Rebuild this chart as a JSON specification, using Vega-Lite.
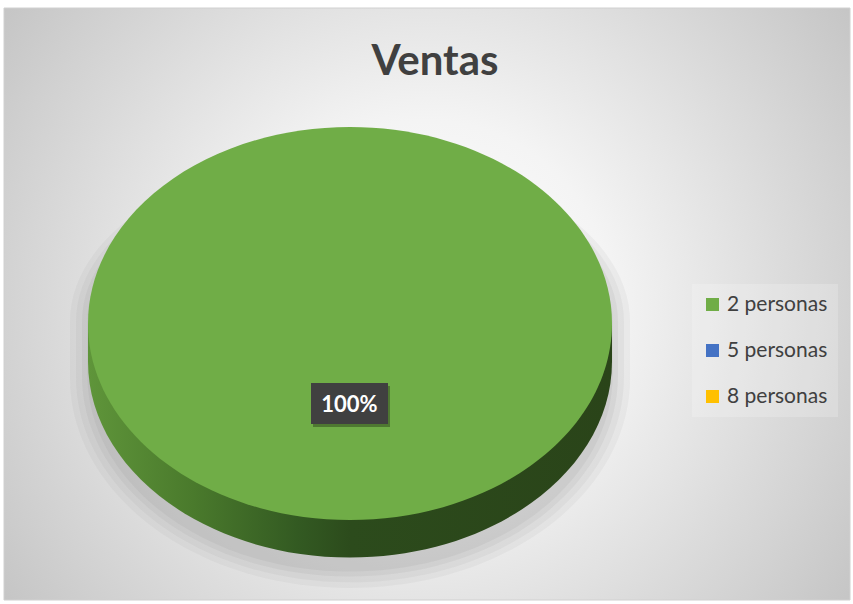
{
  "$schema": "https://vega.github.io/schema/vega-lite/v6.json",
  "width": 853,
  "height": 604,
  "padding": 0,
  "autosize": {"type": "none"},
  "background": "#ffffff",
  "config": {"view": {"stroke": null}},
  "datasets": {
    "ventas": [
      {"categoria": "2 personas", "valor": 1},
      {"categoria": "5 personas", "valor": 0},
      {"categoria": "8 personas", "valor": 0}
    ]
  },
  "data": {"name": "ventas"},
  "layer": [
    {
      "mark": {
        "type": "rect",
        "stroke": "#d0d0d0",
        "strokeWidth": 1,
        "fill": {
          "gradient": "radial",
          "x1": 0.5, "y1": 0.5, "x2": 0.5, "y2": 0.5, "r1": 0, "r2": 0.62,
          "stops": [
            {"offset": 0, "color": "#ffffff"},
            {"offset": 0.35, "color": "#f4f4f4"},
            {"offset": 1, "color": "#c4c4c4"}
          ]
        }
      },
      "transform": [{"filter": "datum.valor > 0"}],
      "encoding": {
        "x": {"datum": 4, "type": "quantitative", "scale": {"domain": [0, 853]}, "axis": null},
        "x2": {"datum": 850},
        "y": {"datum": 8, "type": "quantitative", "scale": {"domain": [0, 604], "reverse": true}, "axis": null},
        "y2": {"datum": 600}
      }
    },
    {
      "mark": {"type": "point", "filled": true, "fill": "#7f7f7f", "opacity": 0.07, "strokeWidth": 0, "size": 313600,
        "shape": "M-1,0C-1,-0.331,-0.5523,-0.6,0,-0.6C0.5523,-0.6,1,-0.331,1,0L1,0.2C1,0.614,0.5523,0.95,0,0.95C-0.5523,0.95,-1,0.614,-1,0.2Z"},
      "transform": [{"filter": "datum.valor > 0"}],
      "encoding": {
        "x": {"datum": 350, "type": "quantitative", "scale": {"domain": [0, 853]}, "axis": null},
        "y": {"datum": 322, "type": "quantitative", "scale": {"domain": [0, 604], "reverse": true}, "axis": null}
      }
    },
    {
      "mark": {"type": "point", "filled": true, "fill": "#7f7f7f", "opacity": 0.08, "strokeWidth": 0, "size": 300304,
        "shape": "M-1,0C-1,-0.331,-0.5523,-0.6,0,-0.6C0.5523,-0.6,1,-0.331,1,0L1,0.2C1,0.614,0.5523,0.95,0,0.95C-0.5523,0.95,-1,0.614,-1,0.2Z"},
      "transform": [{"filter": "datum.valor > 0"}],
      "encoding": {
        "x": {"datum": 350, "type": "quantitative", "scale": {"domain": [0, 853]}, "axis": null},
        "y": {"datum": 322, "type": "quantitative", "scale": {"domain": [0, 604], "reverse": true}, "axis": null}
      }
    },
    {
      "mark": {"type": "point", "filled": true, "fill": "#7f7f7f", "opacity": 0.09, "strokeWidth": 0, "size": 287296,
        "shape": "M-1,0C-1,-0.331,-0.5523,-0.6,0,-0.6C0.5523,-0.6,1,-0.331,1,0L1,0.2C1,0.614,0.5523,0.95,0,0.95C-0.5523,0.95,-1,0.614,-1,0.2Z"},
      "transform": [{"filter": "datum.valor > 0"}],
      "encoding": {
        "x": {"datum": 350, "type": "quantitative", "scale": {"domain": [0, 853]}, "axis": null},
        "y": {"datum": 322, "type": "quantitative", "scale": {"domain": [0, 604], "reverse": true}, "axis": null}
      }
    },
    {
      "mark": {"type": "point", "filled": true, "fill": "#7f7f7f", "opacity": 0.1, "strokeWidth": 0, "size": 276000,
        "shape": "M-1,0C-1,-0.331,-0.5523,-0.6,0,-0.6C0.5523,-0.6,1,-0.331,1,0L1,0.2C1,0.614,0.5523,0.95,0,0.95C-0.5523,0.95,-1,0.614,-1,0.2Z"},
      "transform": [{"filter": "datum.valor > 0"}],
      "encoding": {
        "x": {"datum": 350, "type": "quantitative", "scale": {"domain": [0, 853]}, "axis": null},
        "y": {"datum": 322, "type": "quantitative", "scale": {"domain": [0, 604], "reverse": true}, "axis": null}
      }
    },
    {
      "mark": {
        "type": "point", "filled": true, "strokeWidth": 0, "opacity": 1, "size": 274576,
        "shape": "M-1,0L-1,0.145C-1,0.5581,-0.5523,0.893,0,0.893C0.5523,0.893,1,0.5581,1,0.145L1,0Z",
        "fill": {
          "gradient": "linear", "x1": 0, "y1": 0, "x2": 1, "y2": 0,
          "stops": [
            {"offset": 0, "color": "#5f953a"},
            {"offset": 0.2, "color": "#4a7a2c"},
            {"offset": 0.4, "color": "#335a22"},
            {"offset": 0.5, "color": "#2c4b1c"},
            {"offset": 1, "color": "#2a4419"}
          ]
        }
      },
      "transform": [{"filter": "datum.valor > 0"}],
      "encoding": {
        "x": {"datum": 350, "type": "quantitative", "scale": {"domain": [0, 853]}, "axis": null},
        "y": {"datum": 323.5, "type": "quantitative", "scale": {"domain": [0, 604], "reverse": true}, "axis": null}
      }
    },
    {
      "mark": {
        "type": "point", "filled": true, "strokeWidth": 0, "opacity": 1, "size": 274576,
        "shape": "M-1,0C-1,-0.4131,-0.5523,-0.75,0,-0.75C0.5523,-0.75,1,-0.4131,1,0C1,0.4131,0.5523,0.75,0,0.75C-0.5523,0.75,-1,0.4131,-1,0Z"
      },
      "transform": [{"filter": "datum.valor > 0"}],
      "encoding": {
        "x": {"datum": 350, "type": "quantitative", "scale": {"domain": [0, 853]}, "axis": null},
        "y": {"datum": 323.5, "type": "quantitative", "scale": {"domain": [0, 604], "reverse": true}, "axis": null},
        "color": {
          "field": "categoria",
          "type": "nominal",
          "scale": {"domain": ["2 personas", "5 personas", "8 personas"], "range": ["#70ad47", "#4472c4", "#ffc000"]},
          "legend": {
            "title": null,
            "orient": "none",
            "legendX": 692,
            "legendY": 284,
            "padding": 10,
            "fillColor": "rgba(255,255,255,0.2)",
            "symbolType": "square",
            "symbolSize": 169,
            "symbolStrokeWidth": 0,
            "symbolOpacity": 1,
            "labelFont": "Lato",
            "labelFontSize": 21,
            "labelColor": "#404040",
            "labelOffset": 4,
            "clipHeight": 21,
            "rowPadding": 24,
            "encode": {"symbols": {"update": {"shape": {"value": "square"}, "opacity": {"value": 1}}}}
          }
        }
      }
    },
    {
      "mark": {"type": "point", "filled": true, "fill": "#000000", "opacity": 0.3, "strokeWidth": 0, "size": 5929, "xOffset": 2, "yOffset": 3,
        "shape": "M-1,-0.53L1,-0.53L1,0.53L-1,0.53Z"},
      "transform": [{"filter": "datum.valor > 0"}],
      "encoding": {
        "x": {"datum": 349.5, "type": "quantitative", "scale": {"domain": [0, 853]}, "axis": null},
        "y": {"datum": 403.5, "type": "quantitative", "scale": {"domain": [0, 604], "reverse": true}, "axis": null}
      }
    },
    {
      "mark": {"type": "point", "filled": true, "fill": "#404040", "opacity": 1, "strokeWidth": 0, "size": 5929,
        "shape": "M-1,-0.53L1,-0.53L1,0.53L-1,0.53Z"},
      "transform": [{"filter": "datum.valor > 0"}],
      "encoding": {
        "x": {"datum": 349.5, "type": "quantitative", "scale": {"domain": [0, 853]}, "axis": null},
        "y": {"datum": 403.5, "type": "quantitative", "scale": {"domain": [0, 604], "reverse": true}, "axis": null}
      }
    },
    {
      "mark": {"type": "text", "font": "Lato", "fontSize": 22, "fontWeight": "bold", "color": "#ffffff", "align": "center", "baseline": "middle"},
      "transform": [{"filter": "datum.valor > 0"}],
      "encoding": {
        "x": {"datum": 349.5, "type": "quantitative", "scale": {"domain": [0, 853]}, "axis": null},
        "y": {"datum": 404.5, "type": "quantitative", "scale": {"domain": [0, 604], "reverse": true}, "axis": null},
        "text": {"field": "valor", "type": "quantitative", "format": ".0%"}
      }
    },
    {
      "mark": {"type": "text", "font": "Lato", "fontSize": 42, "fontWeight": "bold", "color": "#404040", "align": "center", "baseline": "alphabetic", "text": "Ventas"},
      "transform": [{"filter": "datum.valor > 0"}],
      "encoding": {
        "x": {"datum": 435, "type": "quantitative", "scale": {"domain": [0, 853]}, "axis": null},
        "y": {"datum": 75, "type": "quantitative", "scale": {"domain": [0, 604], "reverse": true}, "axis": null}
      }
    }
  ]
}
